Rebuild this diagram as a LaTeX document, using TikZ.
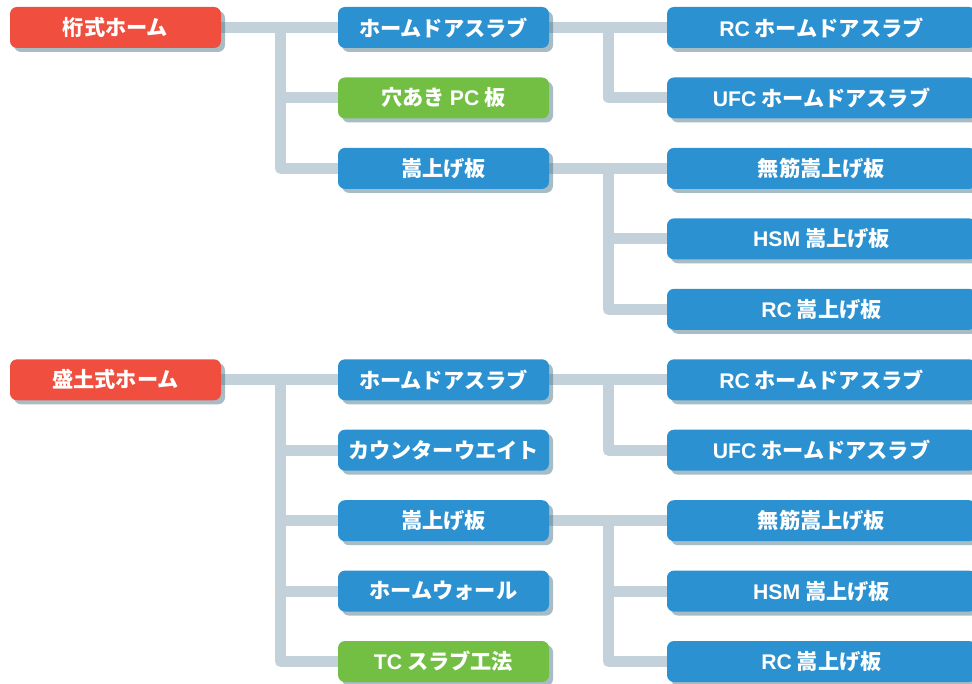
\documentclass[tikz,border=0pt]{standalone}
\usepackage{fontspec}
\setmainfont{Noto Sans CJK JP}
\newfontfamily\lat{Liberation Sans}
\usetikzlibrary{shadows,backgrounds}
\definecolor{cred}{HTML}{F04E3F}
\definecolor{cblue}{HTML}{2B91D1}
\definecolor{cgreen}{HTML}{72BF44}
\definecolor{cline}{HTML}{C3D2DA}
\definecolor{cshadow}{HTML}{3D6B80}
\newcommand{\la}[1]{{\lat\bfseries #1}}
\begin{document}
\begin{tikzpicture}[x=1pt,y=-1pt,
  box/.style={rectangle, rounded corners=7pt, minimum height=41pt, inner sep=0pt,
    text=white, font=\bfseries\fontsize{21.2}{21.2}\selectfont,
    drop shadow={shadow xshift=4pt, shadow yshift=-4pt, fill=cshadow, opacity=0.45}},
  rootbox/.style={box, fill=cred, minimum width=211pt},
  midbox/.style={box, fill=cblue, minimum width=211pt},
  midgreen/.style={box, fill=cgreen, minimum width=211pt},
  leafbox/.style={box, fill=cblue, minimum width=309pt},
  conn/.style={draw=cline, line width=11pt, line join=round}]
\useasboundingbox (0,0) rectangle (972,684);
\clip (0,0) rectangle (972,684);
% top group
\node[rootbox] (k) at (115.5,27.5) {桁式ホーム};
\node[midbox] (k1) at (443.5,27.5) {ホームドアスラブ};
\node[midgreen] (k2) at (443.5,98) {穴あき \la{PC} 板};
\node[midbox] (k3) at (443.5,168.4) {嵩上げ板};
\node[leafbox] (k11) at (821.5,27.5) {\la{RC} ホームドアスラブ};
\node[leafbox] (k12) at (821.5,98) {\la{UFC} ホームドアスラブ};
\node[leafbox] (k31) at (821.5,168.4) {無筋嵩上げ板};
\node[leafbox] (k32) at (821.5,238.9) {\la{HSM} 嵩上げ板};
\node[leafbox] (k33) at (821.5,309.3) {\la{RC} 嵩上げ板};
% bottom group
\node[rootbox] (m) at (115.5,379.8) {盛土式ホーム};
\node[midbox] (m1) at (443.5,379.8) {ホームドアスラブ};
\node[midbox] (m2) at (443.5,450.2) {カウンターウエイト};
\node[midbox] (m3) at (443.5,520.7) {嵩上げ板};
\node[midbox] (m4) at (443.5,591.1) {ホームウォール};
\node[midgreen] (m5) at (443.5,661.5) {\la{TC} スラブ工法};
\node[leafbox] (m11) at (821.5,379.8) {\la{RC} ホームドアスラブ};
\node[leafbox] (m12) at (821.5,450.2) {\la{UFC} ホームドアスラブ};
\node[leafbox] (m31) at (821.5,520.7) {無筋嵩上げ板};
\node[leafbox] (m32) at (821.5,591.1) {\la{HSM} 嵩上げ板};
\node[leafbox] (m33) at (821.5,661.5) {\la{RC} 嵩上げ板};
\coordinate (kv) at (280.5,27.5);
\coordinate (k1v) at (608.5,27.5);
\coordinate (k3v) at (608.5,168.4);
\coordinate (mv) at (280.5,379.8);
\coordinate (m1v) at (608.5,379.8);
\coordinate (m3v) at (608.5,520.7);
\begin{scope}[on background layer]
  \draw[conn] (k.east) -- (k1.west);
  \draw[conn] (kv) |- (k3.west);
  \draw[conn] (kv |- k2.west) -- (k2.west);
  \draw[conn] (k1.east) -- (k11.west);
  \draw[conn] (k1v) |- (k12.west);
  \draw[conn] (k3.east) -- (k31.west);
  \draw[conn] (k3v) |- (k33.west);
  \draw[conn] (k3v |- k32.west) -- (k32.west);
  \draw[conn] (m.east) -- (m1.west);
  \draw[conn] (mv) |- (m5.west);
  \draw[conn] (mv |- m2.west) -- (m2.west);
  \draw[conn] (mv |- m3.west) -- (m3.west);
  \draw[conn] (mv |- m4.west) -- (m4.west);
  \draw[conn] (m1.east) -- (m11.west);
  \draw[conn] (m1v) |- (m12.west);
  \draw[conn] (m3.east) -- (m31.west);
  \draw[conn] (m3v) |- (m33.west);
  \draw[conn] (m3v |- m32.west) -- (m32.west);
\end{scope}
\end{tikzpicture}
\end{document}
